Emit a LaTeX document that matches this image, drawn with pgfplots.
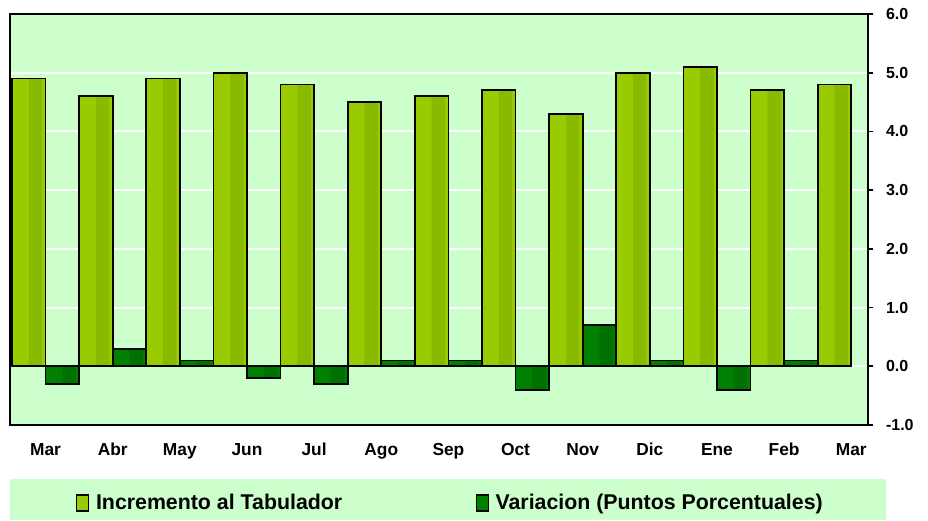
\documentclass[border=0pt]{standalone}
\usepackage{pgfplots}
\pgfplotsset{compat=1.18}
\usepackage{fontspec}
\setmainfont{Liberation Sans}
\definecolor{bg}{HTML}{CCFFCC}
\definecolor{incA}{HTML}{99CC00}
\definecolor{incB}{HTML}{88BB00}
\definecolor{varA}{HTML}{008000}
\definecolor{varB}{HTML}{007000}
\pgfplotstableread{
x y
0 4.9
1 4.6
2 4.9
3 5.0
4 4.8
5 4.5
6 4.6
7 4.7
8 4.3
9 5.0
10 5.1
11 4.7
12 4.8
}\inc
\pgfplotstableread{
x y
0.5 -0.3
1.5 0.3
2.5 0.1
3.5 -0.2
4.5 -0.3
5.5 0.1
6.5 0.1
7.5 -0.4
8.5 0.7
9.5 0.1
10.5 -0.4
11.5 0.1
}\var
\begin{document}
\begin{tikzpicture}
\useasboundingbox (0pt,0pt) rectangle (696pt,390.75pt);
\fill[bg] (7.5pt,0.75pt) rectangle (664.5pt,31.5pt);
\begin{axis}[
  at={(7.5pt,72pt)}, anchor=south west,
  scale only axis, width=643.5pt, height=308.25pt,
  xmin=-0.28, xmax=12.5, ymin=-1, ymax=6,
  axis background/.style={fill=bg},
  axis line style={line width=1.3pt},
  ytick={-1,0,1,2,3,4,5,6},
  ymajorgrids, grid style={white, line width=1.6pt},
  yticklabel pos=right,
  ytick pos=right,
  tick align=outside,
  major tick length=4pt,
  tick style={line width=1.3pt, black},
  y tick label style={/pgf/number format/.cd, fixed, fixed zerofill, precision=1, /tikz/.cd, font=\fontsize{12}{13}\selectfont\bfseries, xshift=6pt},
  /pgf/number format/assume math mode=true,
  xtick={0.25,1.25,...,12.25},
  xticklabels={Mar,Abr,May,Jun,Jul,Ago,Sep,Oct,Nov,Dic,Ene,Feb,Mar},
  x tick label style={font=\fontsize{13}{14}\selectfont\bfseries, text height=9.5pt, text depth=2.5pt, yshift=-6pt},
  xtick style={draw=none},
  ybar, bar shift=0pt, bar width=0.5,
  legend columns=2,
  legend style={at={(axis description cs:0.072,-0.19)}, anchor=west, draw=none, fill=none,
    font=\fontsize{16}{17}\selectfont\bfseries,
    /tikz/every odd column/.append style={column sep=3pt},
    /tikz/every even column/.append style={column sep=98pt}},
  legend image code/.code={\draw[#1,draw=black,line width=1pt] (0pt,-6pt) rectangle (9pt,6pt);},
  clip=true,
]
\addplot[fill=incA, draw=black, line width=1.3pt] table[x=x,y=y]{\inc};
\addlegendentry{Incremento al Tabulador}
\addplot[fill=varA, draw=black, line width=1.3pt] table[x=x,y=y]{\var};
\addlegendentry{Variacion (Puntos Porcentuales)}
\addplot[fill=incB, draw=none, bar width=0.2, bar shift=0.1, forget plot] table[x=x,y=y]{\inc};
\addplot[fill=varB, draw=none, bar width=0.2, bar shift=0.1, forget plot] table[x=x,y=y]{\var};
\addplot[fill=none, draw=black, line width=1.3pt, forget plot] table[x=x,y=y]{\inc};
\addplot[fill=none, draw=black, line width=1.3pt, forget plot] table[x=x,y=y]{\var};
\end{axis}
\end{tikzpicture}
\end{document}
